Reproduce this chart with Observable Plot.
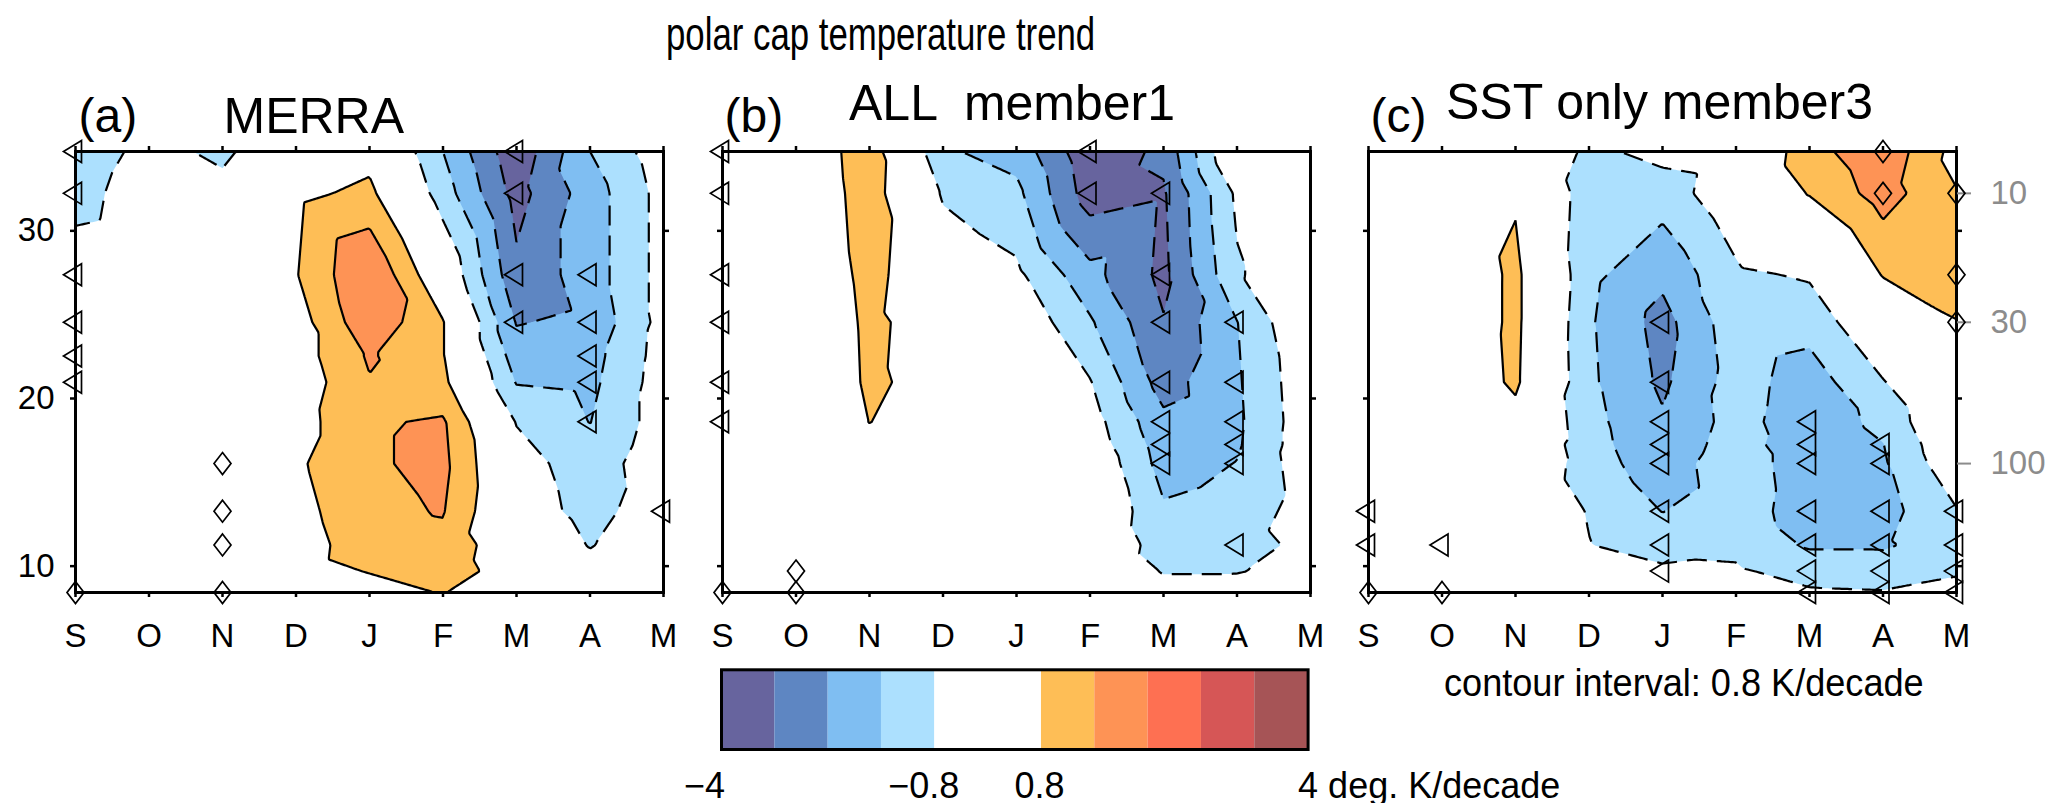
<!DOCTYPE html>
<html>
<head>
<meta charset="utf-8">
<script src="https://cdn.jsdelivr.net/npm/d3@7"></script>
<script src="https://cdn.jsdelivr.net/npm/@observablehq/plot@0.6"></script>
<style>
  html, body { margin: 0; padding: 0; background: #fff; overflow: hidden; }
  #root { position: relative; width: 2062px; height: 803px; background: #fff;
          font-family: "Liberation Sans", Arial, Helvetica, sans-serif; color: #000; }
  .abs { position: absolute; white-space: pre; }
</style>
</head>
<body>
<div id="root"></div>
<script>
// ---------------- data ----------------
const months = ["S", "O", "N", "D", "J", "F", "M", "A", "M"];
const monthIdx = [0, 1, 2, 3, 4, 5, 6, 7, 8];

// pressure levels (hPa), top to bottom
const levelsMerra = [7, 10, 20, 30, 40, 50, 70, 100, 150, 200, 250, 300];
const levelsModel = [7, 10, 20, 30, 50, 70, 85, 100, 150, 200, 250, 300];

// temperature trend (K/decade), one row per level, columns S..M
const merraTrend = [
  [-1.4, -0.5, -1.0, 0.1, 0.5, -1.6, -3.8, -1.6, -0.3],
  [-1.2, -0.2, -0.5, 0.6, 1.0, -1.2, -3.5, -2.0, -0.5],
  [-0.2, 0.0, 0.1, 0.75, 2.4, 0.0, -3.0, -2.0, -0.5],
  [0.1, 0.1, 0.2, 0.4, 2.2, 0.85, -2.45, -2.2, -0.5],
  [0.1, 0.2, 0.2, 0.4, 1.7, 0.85, -2.0, -1.9, -0.45],
  [0.2, 0.2, 0.3, 0.27, 1.55, 1.0, -1.65, -1.8, -0.4],
  [0.2, 0.3, 0.3, 0.45, 1.5, 1.7, -0.85, -1.62, -0.4],
  [0.3, 0.3, 0.4, 0.67, 1.5, 1.8, -0.4, -1.3, -0.2],
  [0.3, 0.4, 0.4, 0.51, 1.4, 1.65, -0.3, -1.1, -0.3],
  [0.2, 0.3, 0.3, 0.36, 1.3, 1.4, 0.1, -0.85, -0.2],
  [0.2, 0.2, 0.3, 0.4, 0.85, 1.3, 0.3, -0.5, -0.1],
  [0.1, 0.2, 0.2, 0.3, 0.4, 0.85, 0.0, -0.2, 0.0]
];
const allTrend = [
  [-0.3, 0.0, 1.3, -1.5, -1.9, -3.8, -3.0, 0.2, 0.0],
  [-0.3, -0.1, 1.25, -0.9, -1.4, -3.6, -3.3, -0.65, 0.0],
  [-0.2, -0.35, 1.15, -0.2, -0.63, -2.14, -3.4, -0.9, 0.0],
  [-0.2, -0.5, 1.05, 0.19, -0.13, -1.5, -3.15, -1.62, 0.1],
  [-0.1, -0.6, 1.0, 0.35, 0.1, -0.75, -2.75, -1.7, -0.2],
  [0.0, -0.3, 0.82, 0.2, 0.1, -0.43, -2.2, -1.75, -0.25],
  [0.0, -0.2, 0.5, 0.1, 0.0, -0.29, -2.0, -1.7, -0.25],
  [0.0, -0.1, 0.3, 0.0, 0.0, -0.04, -1.9, -1.58, -0.3],
  [0.0, 0.0, 0.1, 0.1, 0.1, 0.17, -1.5, -1.3, -0.4],
  [0.1, 0.0, 0.1, 0.1, 0.1, 0.09, -1.2, -1.1, -0.6],
  [0.1, 0.1, 0.0, 0.0, 0.0, 0.0, -0.85, -0.85, -0.5],
  [0.1, 0.1, 0.0, 0.0, 0.0, 0.0, -0.5, -0.4, -0.3]
];
const sstTrend = [
  [0.0, 0.1, 0.3, -1.0, -0.52, -0.3, 1.3, 2.2, 0.5],
  [0.0, 0.1, 0.7, -1.3, -1.25, -0.18, 0.85, 1.96, 0.85],
  [0.0, -0.11, 1.0, -1.4, -2.2, -0.95, -0.7, 0.85, 1.1],
  [0.0, -0.1, 1.0, -1.5, -2.7, -1.1, -1.3, 0.0, 0.78],
  [0.0, 0.0, 0.95, -1.45, -2.55, -1.25, -2.0, -0.85, 0.3],
  [0.0, 0.0, 0.5, -1.35, -2.3, -1.3, -2.1, -1.39, 0.2],
  [0.0, 0.0, 0.2, -1.3, -2.2, -1.2, -2.2, -1.62, -0.06],
  [-0.1, 0.0, 0.1, -1.2, -2.1, -1.0, -2.2, -1.7, -0.22],
  [-0.2, -0.1, 0.0, -0.85, -1.62, -1.1, -2.1, -1.9, -0.85],
  [-0.2, -0.2, -0.1, -0.78, -1.2, -1.0, -1.7, -1.7, -1.2],
  [-0.1, -0.1, -0.1, -0.4, -0.64, -0.7, -1.1, -1.2, -0.9],
  [0.0, 0.0, 0.0, -0.2, -0.3, -0.3, -0.7, -0.75, -0.5]
];

// significance markers: [month index, pressure hPa]
const merraTriangles = [[0,7],[0,10],[0,20],[0,30],[0,40],[0,50],[6,7],[6,10],[6,20],[6,30],
                        [7,20],[7,30],[7,40],[7,50],[7,70],[8,150]];
const merraDiamonds = [[0,300],[2,100],[2,150],[2,200],[2,300]];
const allTriangles = [[0,7],[0,10],[0,20],[0,30],[0,50],[0,70],[5,7],[5,10],
                      [6,10],[6,20],[6,30],[6,50],[6,70],[6,85],[6,100],
                      [7,30],[7,50],[7,70],[7,85],[7,100],[7,200]];
const allDiamonds = [[0,300],[1,250],[1,300]];
const sstTriangles = [[0,150],[0,200],[1,200],
                      [4,30],[4,50],[4,70],[4,85],[4,100],[4,150],[4,200],[4,250],
                      [6,70],[6,85],[6,100],[6,150],[6,200],[6,250],[6,300],
                      [7,85],[7,100],[7,150],[7,200],[7,250],[7,300],
                      [8,150],[8,200],[8,250],[8,300]];
const sstDiamonds = [[0,300],[1,300],[7,7],[7,10],[8,10],[8,20],[8,30]];

const kmTicks = [10, 20, 30];
const pressureTicks = [10, 30, 100];

const fillThresholds = [-4, -3.2, -2.4, -1.6, -0.8, 0.8, 1.6, 2.4, 3.2, 4];
const negativeLines = [-3.2, -2.4, -1.6, -0.8];
const positiveLines = [0.8, 1.6, 2.4, 3.2];
const colorBreaks = [-3.2, -2.4, -1.6, -0.8, 0.8, 1.6, 2.4, 3.2, 4];
const bandColors = ["#67649e", "#5e86c2", "#7fbef2", "#ace0fe", "#ffffff",
                    "#febe56", "#fe9355", "#fe7052", "#d65656", "#a65456"];
const legendColors = ["#67649e", "#5e86c2", "#7fbef2", "#ace0fe", "#ffffff", "#ffffff",
                      "#febe56", "#fe9355", "#fe7052", "#d65656", "#a65456"];
const legendTickPos = [0, 4, 6, 11];
const legendTickText = ["\u22124", "\u22120.8", "0.8", "4 deg. K/decade"];

const panelTags = ["(a)", "(b)", "(c)"];
const panelNames = ["MERRA", "ALL  member1", "SST only member3"];

// ---------------- helpers ----------------
const H = 7; // scale height (km) for log-pressure height
const zOf = p => H * Math.log(1000 / p);
const pOf = z => Math.round(1000 * Math.exp(-z / H));

function toPoints(levels, rows) {
  const out = [];
  levels.forEach((p, j) => rows[j].forEach((v, i) => out.push({m: monthIdx[i], z: zOf(p), v})));
  return out;
}
function toMarkers(list) { return list.map(([m, p]) => ({m, z: zOf(p)})); }

const triSymbol = {draw(c) { c.moveTo(6, -11); c.lineTo(6, 11); c.lineTo(-12, 0); c.closePath(); }};
const diaSymbol = {draw(c) { c.moveTo(0, -11); c.lineTo(8.5, 0); c.lineTo(0, 11); c.lineTo(-8.5, 0); c.closePath(); }};

const FONT = '"Liberation Sans", Arial, Helvetica, sans-serif';
const L = {frameTop: 151, frameH: 441, frameW: 588, marginLeft: 75, marginBottom: 60,
           marginRight: 45, marginRightC: 100};

const root = document.getElementById("root");
function place(node, left, top) {
  const d = document.createElement("div");
  d.className = "abs";
  d.style.left = left + "px";
  d.style.top = top + "px";
  d.appendChild(node);
  root.appendChild(d);
}

const panels = [
  {rows: merraTrend, levels: levelsMerra, tri: merraTriangles, dia: merraDiamonds, left: 0,
   kmLabels: true, pressure: false, tagDx: 3, tagDy: -20, nameDx: 148, nameDy: -19},
  {rows: allTrend, levels: levelsModel, tri: allTriangles, dia: allDiamonds, left: 646.5,
   kmLabels: false, pressure: false, tagDx: 2, tagDy: -20, nameDx: 126.5, nameDy: -31.5},
  {rows: sstTrend, levels: levelsModel, tri: sstTriangles, dia: sstDiamonds, left: 1292.5,
   kmLabels: false, pressure: true, tagDx: 2, tagDy: -20, nameDx: 77.5, nameDy: -32.5}
];

panels.forEach((cfg, k) => {
  const mr = cfg.pressure ? L.marginRightC : L.marginRight;
  const data = toPoints(cfg.levels, cfg.rows);
  const common = {x: "m", y: "z", interpolate: "barycentric", clip: true};
  const svg = Plot.plot({
    width: L.marginLeft + L.frameW + mr,
    height: L.frameTop + L.frameH + L.marginBottom,
    marginLeft: L.marginLeft, marginRight: mr, marginTop: L.frameTop, marginBottom: L.marginBottom,
    x: {domain: [0, 8]},
    y: {domain: [zOf(300), zOf(7)]},
    color: {type: "threshold", domain: colorBreaks, range: bandColors},
    style: {fontFamily: FONT, fontSize: "33px", background: "none", overflow: "visible", color: "black"},
    marks: [
      Plot.contour(data, {...common, fill: "v", stroke: "none", thresholds: fillThresholds}),
      Plot.contour(data, {...common, value: "v", thresholds: negativeLines, fill: "none",
                          stroke: "black", strokeWidth: 2.2, strokeDasharray: "20,10"}),
      Plot.contour(data, {...common, value: "v", thresholds: positiveLines, fill: "none",
                          stroke: "black", strokeWidth: 2.2}),
      Plot.frame({stroke: "black", strokeWidth: 3}),
      Plot.axisX({anchor: "bottom", ticks: monthIdx, tickFormat: i => months[i], tickSize: 5,
                  tickPadding: 26, strokeWidth: 2.5, label: null}),
      Plot.axisX({anchor: "top", ticks: monthIdx, tickFormat: () => "", tickSize: 6,
                  strokeWidth: 2.5, label: null}),
      Plot.axisY({anchor: "left", ticks: kmTicks, tickFormat: cfg.kmLabels ? (d => String(d)) : (() => ""),
                  tickSize: 5, tickPadding: 16, strokeWidth: 2.5, label: null}),
      Plot.axisY({anchor: "right", ticks: kmTicks, tickFormat: () => "", tickSize: 5,
                  strokeWidth: 2.5, label: null}),
      ...(cfg.pressure ? [Plot.axisY({anchor: "right", ticks: pressureTicks.map(zOf), tickFormat: d => String(pOf(d)),
                  tickSize: 14, tickPadding: 20, strokeWidth: 2, color: "#8c8c8c", label: null})] : []),
      Plot.dot(toMarkers(cfg.tri), {x: "m", y: "z", symbol: triSymbol, stroke: "black", fill: "none", strokeWidth: 1.7}),
      Plot.dot(toMarkers(cfg.dia), {x: "m", y: "z", symbol: diaSymbol, stroke: "black", fill: "none", strokeWidth: 1.7}),
      Plot.text([panelTags[k]], {text: d => d, frameAnchor: "top-left", textAnchor: "start", lineAnchor: "bottom",
                  dx: cfg.tagDx, dy: cfg.tagDy, fontSize: 48}),
      Plot.text([panelNames[k]], {text: d => d, frameAnchor: "top-left", textAnchor: "start", lineAnchor: "bottom",
                  dx: cfg.nameDx, dy: cfg.nameDy, fontSize: 50})
    ]
  });
  place(svg, cfg.left, 0);
});

// ---------------- colour bar ----------------
const legendAnchors = ["middle", "middle", "middle", "start"];
const legendDx = [-17, -11, -2, -10];
const legendBoxes = legendColors.map((c, i) => ({i, c}));
const legend = Plot.plot({
  width: 700, height: 148,
  marginLeft: 61, marginRight: 52.4, marginTop: 14.3, marginBottom: 54,
  x: {domain: [0, legendColors.length], axis: null},
  color: {type: "identity"},
  style: {fontFamily: FONT, fontSize: "36px", background: "none", overflow: "visible", color: "black"},
  marks: [
    Plot.rect(legendBoxes, {x1: "i", x2: d => d.i + 1, fill: "c"}),
    Plot.frame({stroke: "black", strokeWidth: 3}),
    ...legendTickPos.map((pos, k) => Plot.text([k], {
      x: j => legendTickPos[j], text: j => legendTickText[j], frameAnchor: "bottom",
      lineAnchor: "bottom", dy: 48, dx: legendDx[k], textAnchor: legendAnchors[k], fontSize: 36
    }))
  ]
});
place(legend, 660, 655);

// ---------------- titles ----------------
function addText(txt, left, baseline, size, sx) {
  const d = document.createElement("div");
  d.className = "abs";
  d.textContent = txt;
  d.style.left = left + "px";
  d.style.fontSize = size + "px";
  d.style.lineHeight = size + "px";
  d.style.top = (baseline - 0.8465 * size) + "px";
  d.style.transformOrigin = "0 0";
  d.style.transform = `scaleX(${sx})`;
  root.appendChild(d);
}
addText("polar cap temperature trend", 666, 50, 47, 0.74);
addText("contour interval: 0.8 K/decade", 1444, 696, 38, 0.95);
</script>
</body>
</html>
